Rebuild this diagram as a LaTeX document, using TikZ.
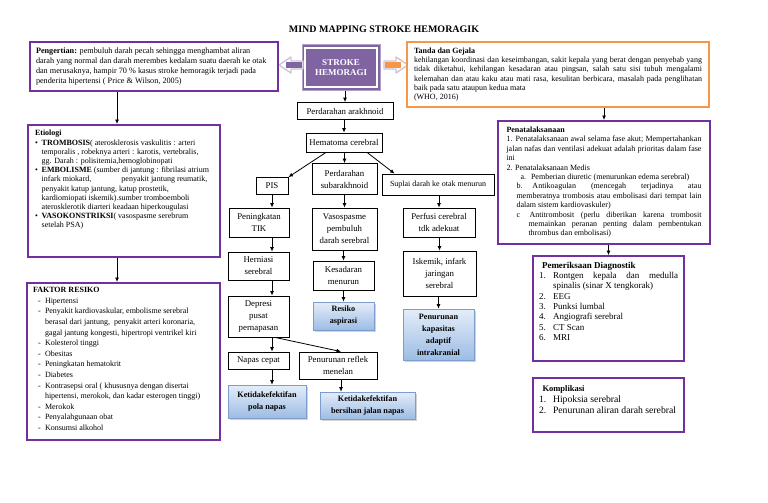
\documentclass[tikz,border=0pt]{standalone}
\usepackage{fontspec}
\setmainfont{Liberation Serif}
\usetikzlibrary{arrows.meta,shadows}
\definecolor{purp}{HTML}{7030A0}
\definecolor{strokefill}{HTML}{8064A2}
\definecolor{orng}{HTML}{F79646}
\definecolor{bluetop}{HTML}{E4EDF9}
\definecolor{bluebot}{HTML}{9DBCE4}
\definecolor{bluedraw}{HTML}{7D9DCC}
\definecolor{arrline}{HTML}{CBC4D8}
\newcommand{\fsz}[2]{\fontsize{#1}{#2}\selectfont}
\newcommand{\oneline}[1]{\mbox{#1}\par}
\newcommand{\jline}[2][0pt]{\hspace*{#1}\makebox[\dimexpr\linewidth-#1\relax][s]{#2}\par}
\newcommand{\bul}[1]{\makebox[6.7pt][l]{\textbullet}\mbox{#1}\par}
\newcommand{\bcont}[1]{\hspace*{6.7pt}\mbox{#1}\par}
\newcommand{\dsh}[1]{\hspace*{5pt}\makebox[7pt][l]{-}\mbox{#1}\par}
\newcommand{\dcont}[1]{\hspace*{12pt}\mbox{#1}\par}
\newcommand{\numit}[2]{\makebox[14pt][l]{#1}\mbox{#2}\par}
\begin{document}
\begin{tikzpicture}[x=1pt,y=-1pt,
  fbox/.style={draw=black, line width=0.8pt, fill=white, align=center, inner sep=1pt, font=\fsz{8.8}{12}},
  bbox/.style={draw=bluedraw, line width=0.6pt, top color=bluetop, bottom color=bluebot, align=center, inner sep=1pt, font=\bfseries\fsz{8.2}{12}, drop shadow={shadow xshift=1.5pt, shadow yshift=-1.5pt, opacity=0.35}},
  pbox/.style={draw=purp, line width=2pt, fill=white},
  obox/.style={draw=orng, line width=2pt, fill=white},
  arr/.style={-{Latex[length=4.5pt,width=4pt]}, line width=0.8pt, black},
  strokebox/.style={draw=strokefill!60!white, line width=1pt, fill=strokefill, text=white, font=\bfseries\fsz{9}{10}, align=center, minimum width=78pt, minimum height=45pt},
]
\useasboundingbox (0,0) rectangle (768,503);
\fill[white] (0,0) rectangle (768,503);

\node[font=\bfseries\fsz{10}{12}] (title) at (384,29) {MIND MAPPING STROKE HEMORAGIK};

% central box
\node[strokebox] (stroke) at (341,67.5) {STROKE\\HEMORAGI};
\draw[white, line width=1.1pt] ([shift={(3.5pt,-3.5pt)}]stroke.north west) rectangle ([shift={(-3.5pt,3.5pt)}]stroke.south east);

% block arrows
\draw[arrline, line width=1.3pt, fill=white, line join=round] (303,61) -- (291,61) -- (291,57) -- (279,65) -- (291,73) -- (291,69) -- (303,69) -- cycle;
\fill[strokefill] (286,62) rectangle (302,68);
\draw[arrline, line width=1.3pt, fill=white, line join=round] (384,61) -- (396,61) -- (396,57) -- (408,65) -- (396,73) -- (396,69) -- (384,69) -- cycle;
\fill[orng] (385,62) rectangle (401,68);

% Pengertian
\node[pbox, inner xsep=6pt, inner ysep=6pt] (peng) at (154,66.2) {\begin{minipage}[c][37pt][c]{236pt}\fsz{8.2}{10}%
\oneline{\textbf{Pengertian:} pembuluh darah pecah sehingga menghambat aliran}
\oneline{darah yang normal dan darah merembes kedalam suatu daerah ke otak}
\oneline{dan merusaknya, hampir 70 \% kasus stroke hemoragik terjadi pada}
\oneline{penderita hipertensi ( Price \& Wilson, 2005)}
\end{minipage}};

% Tanda dan gejala
\node[obox, inner xsep=7pt, inner ysep=4pt] (tanda) at (558,74.5) {\begin{minipage}[c][57pt][c]{288pt}\fsz{8}{9.3}%
\oneline{\textbf{Tanda dan Gejala}}
\jline{kehilangan koordinasi dan keseimbangan, sakit kepala yang berat dengan penyebab yang}
\jline{tidak diketahui, kehilangan kesadaran atau pingsan, salah satu sisi tubuh mengalami}
\jline{kelemahan dan atau kaku atau mati rasa, kesulitan berbicara, masalah pada penglihatan}
\oneline{baik pada satu ataupun kedua mata}
\oneline{(WHO, 2016)}
\end{minipage}};

% Etiologi
\node[pbox, inner xsep=7pt, inner ysep=5.4pt] (etio) at (124,191) {\begin{minipage}[c][121.2pt][t]{178pt}\fsz{8}{9.2}%
\oneline{\textbf{Etiologi}}
\bul{\textbf{TROMBOSIS}( aterosklerosis vaskulitis : arteri}
\bcont{temporalis , robeknya arteri : karotis, vertebralis,}
\bcont{gg. Darah : polisitemia,hemoglobinopati}
\bul{\textbf{EMBOLISME} (sumber di jantung : fibrilasi atrium}
\bcont{infark miokard,\hspace{30pt}penyakit jantung reumatik,}
\bcont{penyakit katup jantung, katup prostetik,}
\bcont{kardiomiopati iskemik).sumber tromboemboli}
\bcont{aterosklerotik diarteri keadaan hiperkougulasi}
\bul{\textbf{VASOKONSTRIKSI}( vasospasme serebrum}
\bcont{setelah PSA)}
\end{minipage}};

% Faktor resiko
\node[pbox, inner xsep=6pt, inner ysep=4.4pt] (faktor) at (123.5,361.5) {\begin{minipage}[c][148.2pt][t]{181pt}\fsz{8}{10.6}%
\oneline{\textbf{FAKTOR RESIKO}}
\dsh{Hipertensi}
\dsh{Penyakit kardiovaskular, embolisme serebral}
\dcont{berasal dari jantung,\ \ penyakit arteri koronaria,}
\dcont{gagal jantung kongesti, hipertropi ventrikel kiri}
\dsh{Kolesterol tinggi}
\dsh{Obesitas}
\dsh{Peningkatan hematokrit}
\dsh{Diabetes}
\dsh{Kontrasepsi oral ( khususnya dengan disertai}
\dcont{hipertensi, merokok, dan kadar esterogen tinggi)}
\dsh{Merokok}
\dsh{Penyalahgunaan obat}
\dsh{Konsumsi alkohol}
\end{minipage}};

% Penatalaksanaan
\node[pbox, inner xsep=8.5pt, inner ysep=6pt] (pen) at (604,182.5) {\begin{minipage}[c][111pt][t]{195pt}\fsz{8}{9.4}%
\oneline{\textbf{Penatalaksanaan}}
\jline{1. Penatalaksanaan awal selama fase akut; Mempertahankan}
\jline{jalan nafas dan ventilasi adekuat adalah prioritas dalam fase}
\oneline{ini}
\oneline{2. Penatalaksanaan Medis}
\oneline{\hspace*{14pt}a.\hspace{5pt}Pemberian diuretic (menurunkan edema serebral)}
\jline[10pt]{b.\hspace{10pt}Antikoagulan (mencegah terjadinya atau}
\jline[10pt]{memberatnya trombosis atau embolisasi dari tempat lain}
\oneline{\hspace*{10pt}dalam sistem kardiovaskuler)}
\jline[10pt]{c\hspace{3pt} Antitrombosit (perlu diberikan karena trombosit}
\jline[22pt]{memainkan peranan penting dalam pembentukan}
\oneline{\hspace*{22pt}thrombus dan embolisasi)}
\end{minipage}};

% Pemeriksaan diagnostik
\node[pbox, inner xsep=6pt, inner ysep=5.9pt] (pem) at (608.5,308.5) {\begin{minipage}[c][93pt][t]{139pt}\fsz{9}{10.35}%
\oneline{\hspace*{3pt}\textbf{Pemeriksaan Diagnostik}}
\makebox[14pt][l]{1.}\makebox[\dimexpr\linewidth-14pt\relax][s]{Rontgen kepala dan medulla}\par
\oneline{\hspace*{14pt}spinalis (sinar X tengkorak)}
\numit{2.}{EEG}
\numit{3.}{Punksi lumbal}
\numit{4.}{Angiografi serebral}
\numit{5.}{CT Scan}
\numit{6.}{MRI}
\end{minipage}};

% Komplikasi
\node[pbox, inner xsep=6pt, inner ysep=7.5pt] (komp) at (608.5,405) {\begin{minipage}[c][39pt][t]{139pt}\fsz{8.5}{11.2}%
\oneline{\hspace*{3.5pt}\textbf{Komplikasi}}
{\fsz{9.7}{11.2}\numit{1.}{Hipoksia serebral}
\numit{2.}{Penurunan aliran darah serebral}}
\end{minipage}};

% flowchart nodes
\node[fbox, minimum width=96pt, minimum height=17pt] (pa) at (345,111) {Perdarahan arakhnoid};
\node[fbox, minimum width=76pt, minimum height=19pt] (hc) at (344,142.5) {Hematoma cerebral};
\node[fbox, minimum width=32pt, minimum height=17pt] (pis) at (272,186) {PIS};
\node[fbox, minimum width=65pt, minimum height=31pt] (ps) at (344.5,179) {Perdarahan\\subarakhnoid};
\node[fbox, minimum width=112pt, minimum height=21pt, font=\fsz{8}{11}] (sd) at (438,184.5) {Suplai darah ke otak menurun};
\node[fbox, minimum width=60pt, minimum height=29pt] (pt) at (259,222.5) {Peningkatan\\TIK};
\node[fbox, minimum width=65pt, minimum height=42pt] (vs) at (344.5,229) {Vasospasme\\pembuluh\\darah serebral};
\node[fbox, minimum width=72pt, minimum height=29pt] (pc) at (439,222.5) {Perfusi cerebral\\tdk adekuat};
\node[fbox, minimum width=61pt, minimum height=28pt] (hs) at (258.5,266) {Herniasi\\serebral};
\node[fbox, minimum width=61pt, minimum height=29pt] (km) at (343.5,275.5) {Kesadaran\\menurun};
\node[fbox, minimum width=73pt, minimum height=45pt] (ik) at (439.5,273.5) {Iskemik, infark\\jaringan\\serebral};
\node[fbox, minimum width=61pt, minimum height=41pt] (dp) at (258.5,316.5) {Depresi\\pusat\\pernapasan};
\node[bbox, minimum width=61pt, minimum height=28pt] (ra) at (343.5,316) {Resiko\\aspirasi};
\node[bbox, minimum width=71pt, minimum height=51pt] (pk) at (438.5,334.5) {Penurunan\\kapasitas\\adaptif\\intrakranial};
\node[fbox, minimum width=61pt, minimum height=17pt] (nc) at (258.5,360.5) {Napas cepat};
\node[fbox, minimum width=78pt, minimum height=27pt] (pr) at (338,365.5) {Penurunan reflek\\menelan};
\node[bbox, minimum width=78pt, minimum height=33pt] (kp) at (267,401.5) {Ketidakefektifan\\pola napas};
\node[bbox, minimum width=95pt, minimum height=27pt] (kb) at (367.5,405.5) {Ketidakefektifan\\bersihan jalan napas};

% helper coordinates
\coordinate (e1) at ([xshift=-7pt]etio.north);
\coordinate (f1) at ([xshift=-6.5pt]faktor.north);
\coordinate (r1) at ([xshift=3pt]pr.south);

% connectors
\draw[arr] (e1 |- peng.south) -- (e1);
\draw[arr] (f1 |- etio.south) -- (f1);
\draw[arr] (pen.north |- tanda.south) -- (pen.north);
\draw[arr] (pem.north |- pen.south) -- (pem.north);
\draw[arr] (stroke.south -| pa.north) -- (pa.north);
\draw[arr] (pa.south -| hc.north) -- (hc.north);
\draw[arr] ([xshift=-18pt]hc.south) -- (pis.north east);
\draw[arr] (hc.south -| ps.north) -- (ps.north);
\draw[arr] ([xshift=23pt]hc.south) -- ([xshift=13pt]sd.north west);
\draw[arr] (pis.south) -- (pis.south |- pt.north);
\draw[arr] (ps.south) -- (vs.north);
\draw[arr] (sd.south -| pc.north) -- (pc.north);
\draw[arr] (pt.south -| pis.south) -- (pis.south |- hs.north);
\draw[arr] (hs.south -| pis.south) -- (pis.south |- dp.north);
\draw[arr] (dp.south -| pis.south) -- (pis.south |- nc.north);
\draw[arr] (nc.south -| pis.south) -- (pis.south |- kp.north);
\draw[arr] (vs.south -| km.north) -- (km.north);
\draw[arr] (km.south) -- (ra.north);
\draw[arr] (pc.south -| ik.north) -- (ik.north);
\draw[arr] (ik.south -| pk.north) -- (pk.north);
\draw[arr] ([xshift=16.5pt]dp.south) -- ([xshift=3pt]pr.north);
\draw[arr] (r1) -- (r1 |- kb.north);
\end{tikzpicture}
\end{document}
